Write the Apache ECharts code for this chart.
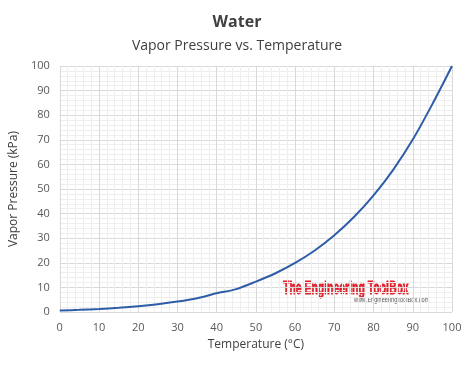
<!DOCTYPE html>
<html><head><meta charset="utf-8">
<script src="https://cdn.jsdelivr.net/npm/echarts@6/dist/echarts.min.js"></script>
<style>html,body{margin:0;padding:0;background:#fff}#c{width:474px;height:366px}</style>
</head><body><div id="c"></div>
<script>
const temps = [0, 5, 10, 15, 20, 25, 30, 35, 40, 45, 50, 55, 60, 65, 70, 75, 80, 85, 90, 95, 100];
const pressures = [0.61, 0.87, 1.23, 1.71, 2.34, 3.17, 4.25, 5.63, 7.6, 9.3, 12.35, 15.76, 19.95, 25.0, 31.2, 38.6, 47.4, 57.8, 70.1, 84.5, 100.0];
const xTicks = [0, 10, 20, 30, 40, 50, 60, 70, 80, 90, 100];
const yTicks = [0, 10, 20, 30, 40, 50, 60, 70, 80, 90, 100];
const data = temps.map((t, i) => [t, pressures[i]]);
const font = "'Open Sans', 'Liberation Sans', sans-serif";
const chart = echarts.init(document.getElementById('c'));
chart.setOption({
  animation: false,
  title: [
    {text: 'Water', left: 'center', top: 9, textStyle: {fontFamily: font, fontSize: 16, fontWeight: 'bold', color: '#404040'}},
    {text: 'Vapor Pressure vs. Temperature', left: 'center', top: 34, textStyle: {fontFamily: font, fontSize: 14, fontWeight: 'normal', color: '#404040'}}
  ],
  grid: {left: 59, right: 22, top: 66, bottom: 54},
  xAxis: {
    type: 'value', min: 0, max: 100, interval: 10,
    name: 'Temperature (°C)', nameLocation: 'middle', nameGap: 27,
    nameTextStyle: {fontFamily: font, fontSize: 12, color: '#404040'},
    axisLine: {show: false}, axisTick: {show: false},
    axisLabel: {fontFamily: font, fontSize: 11, color: '#595959', margin: 10,
      formatter: v => xTicks.includes(v) ? String(v) : ''},
    splitLine: {lineStyle: {color: '#d9d9d9', width: 1}},
    minorTick: {show: false, splitNumber: 5},
    minorSplitLine: {show: true, lineStyle: {color: '#eeeeee', width: 1}}
  },
  yAxis: {
    type: 'value', min: 0, max: 100, interval: 10,
    name: 'Vapor Pressure (kPa)', nameLocation: 'middle', nameGap: 36, nameRotate: 90,
    nameTextStyle: {fontFamily: font, fontSize: 12, color: '#404040'},
    axisLine: {show: false}, axisTick: {show: false},
    axisLabel: {fontFamily: font, fontSize: 11, color: '#595959', margin: 10,
      formatter: v => yTicks.includes(v) ? String(v) : ''},
    splitLine: {lineStyle: {color: '#d9d9d9', width: 1}},
    minorTick: {show: false, splitNumber: 5},
    minorSplitLine: {show: true, lineStyle: {color: '#eeeeee', width: 1}}
  },
  series: [{
    type: 'line', data: data, smooth: 0.3, showSymbol: false, clip: false,
    lineStyle: {color: '#2e5da8', width: 2}
  }],
  graphic: [
    {type: 'text', x: 283, y: 279, scaleX: 0.58, scaleY: 1.05, style: {text: 'The Engineering ToolBox', fontFamily: "'Liberation Sans', sans-serif", fontWeight: 'bold', fontSize: 18, fill: '#e0202a', stroke: '#e0202a', lineWidth: 0.8}},
    {type: 'text', x: 354, y: 297, scaleX: 0.8, style: {text: 'www.EngineeringToolBox.com', fontFamily: "'Liberation Sans', sans-serif", fontSize: 7, fill: '#555'}}
  ]
});
</script></body></html>
